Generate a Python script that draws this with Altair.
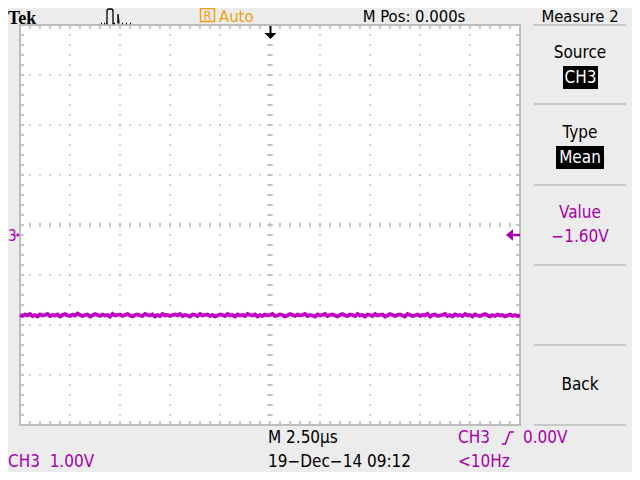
import altair as alt
import numpy as np
import pandas as pd

# ---------------- data ----------------
# time axis: 2.50 us/div, 10 divisions ; vertical: CH3 1.00 V/div, ground marker 0.2 div below centre
time_range_us = [-12.5, 12.5]
volt_range = [-3.8, 4.2]
major_t = [-10, -7.5, -5, -2.5, 2.5, 5, 7.5, 10]
major_v = [-2.8, -1.8, -0.8, 1.2, 2.2, 3.2]
centre_t = 0.0
centre_v = 0.2

# CH3 trace (volts), one sample every 0.125 us
trace_v = [
    -1.60, -1.62, -1.59, -1.61, -1.58, -1.62, -1.60, -1.63, -1.59, -1.61, -1.60, -1.58, -1.62, -1.60, -1.61, -1.59, -1.63, -1.60, -1.58, -1.61,
    -1.62, -1.59, -1.61, -1.57, -1.60, -1.62, -1.60, -1.59, -1.63, -1.61, -1.58, -1.60, -1.62, -1.59, -1.61, -1.60, -1.63, -1.58, -1.61, -1.60,
    -1.59, -1.62, -1.60, -1.58, -1.61, -1.63, -1.60, -1.59, -1.61, -1.62, -1.58, -1.60, -1.61, -1.59, -1.63, -1.60, -1.62, -1.58, -1.61, -1.60,
    -1.62, -1.60, -1.59, -1.61, -1.58, -1.62, -1.60, -1.61, -1.63, -1.59, -1.60, -1.62, -1.58, -1.61, -1.60, -1.59, -1.62, -1.60, -1.63, -1.61,
    -1.59, -1.60, -1.62, -1.58, -1.61, -1.60, -1.63, -1.59, -1.61, -1.60, -1.62, -1.58, -1.60, -1.61, -1.59, -1.63, -1.60, -1.62, -1.59, -1.61,
    -1.60, -1.58, -1.62, -1.61, -1.59, -1.60, -1.63, -1.61, -1.58, -1.60, -1.62, -1.59, -1.61, -1.60, -1.58, -1.62, -1.60, -1.61, -1.63, -1.59,
    -1.61, -1.60, -1.58, -1.62, -1.60, -1.59, -1.61, -1.63, -1.60, -1.58, -1.61, -1.62, -1.59, -1.60, -1.62, -1.58, -1.61, -1.60, -1.63, -1.59,
    -1.60, -1.62, -1.58, -1.61, -1.60, -1.59, -1.63, -1.61, -1.58, -1.60, -1.62, -1.60, -1.59, -1.61, -1.63, -1.58, -1.60, -1.62, -1.61, -1.59,
    -1.62, -1.60, -1.61, -1.58, -1.63, -1.60, -1.59, -1.62, -1.61, -1.60, -1.58, -1.62, -1.60, -1.63, -1.59, -1.61, -1.60, -1.62, -1.58, -1.61,
    -1.60, -1.63, -1.59, -1.61, -1.62, -1.60, -1.58, -1.61, -1.63, -1.60, -1.62, -1.59, -1.61, -1.60, -1.63, -1.61, -1.59, -1.62, -1.60, -1.62,
    -1.61,
]
trace_dt = 0.125

menu_title = "Measure 2"
menu_items = ["Source", "Type", "Value", "Back"]
menu_values = ["CH3", "Mean", "\u22121.60V"]
top_texts = ["Tek", "Auto", "M Pos: 0.000s", "R"]
bottom_texts = ["M 2.50\u00b5s", "19\u2212Dec\u221214 09:12", "CH3", "0.00V", "<10Hz", "CH3\u00a0\u00a01.00V"]

# ---------------- styles ----------------
PURPLE = "#a600aa"
TRACE = "#c000c4"
ORANGE = "#f0a010"
GRID = "#bababa"
SEP = "#c8c8c8"
BG = "#ececec"
FONT = "Liberation Sans Narrow, DejaVu Sans Condensed, Roboto, sans-serif"
OX, OY = 20, 25  # page position of plot area

xs = alt.Scale(domain=time_range_us, nice=False, zero=False)
ys = alt.Scale(domain=volt_range, nice=False, zero=False)


def enc(df):
    return alt.Chart(df).encode(
        x=alt.X("t:Q", scale=xs, axis=None),
        y=alt.Y("v:Q", scale=ys, axis=None),
    )


def steps(a, b, step):
    n = int(round((b - a) / step))
    return [round(a + i * step, 4) for i in range(1, n)]


minor_t = steps(time_range_us[0], time_range_us[1], 0.5)
minor_v = steps(volt_range[0], volt_range[1], 0.2)

dots = pd.DataFrame(
    [{"t": t, "v": v} for t in major_t for v in minor_v]
    + [{"t": t, "v": v} for v in major_v for t in minor_t]
)
centre_h = pd.DataFrame({"t": minor_t, "v": [centre_v] * len(minor_t)})
centre_vt = pd.DataFrame({"t": [centre_t] * len(minor_v), "v": minor_v})
top_b = pd.DataFrame({"t": minor_t, "v": [volt_range[1]] * len(minor_t)})
bot_b = pd.DataFrame({"t": minor_t, "v": [volt_range[0]] * len(minor_t)})
left_b = pd.DataFrame({"t": [time_range_us[0]] * len(minor_v), "v": minor_v})
right_b = pd.DataFrame({"t": [time_range_us[1]] * len(minor_v), "v": minor_v})

trace = pd.DataFrame({"t": [time_range_us[0] + i * trace_dt for i in range(len(trace_v))], "v": trace_v})

VDASH = "M0,-1L0,1"
HDASH = "M-1,0L1,0"

layers = []
layers.append(enc(dots).mark_square(size=2.5, color=GRID, opacity=1))
layers.append(enc(centre_h).mark_point(shape=VDASH, size=20, stroke=GRID, strokeWidth=1.6, filled=False, opacity=1))
layers.append(enc(centre_vt).mark_point(shape=HDASH, size=30, stroke=GRID, strokeWidth=1.8, filled=False, opacity=1))
layers.append(enc(top_b).mark_point(shape=VDASH, size=16, stroke=GRID, strokeWidth=1.6, filled=False, opacity=1, yOffset=2))
layers.append(enc(bot_b).mark_point(shape=VDASH, size=16, stroke=GRID, strokeWidth=1.6, filled=False, opacity=1, yOffset=-2))
layers.append(enc(left_b).mark_point(shape=HDASH, size=16, stroke=GRID, strokeWidth=1.6, filled=False, opacity=1, xOffset=2))
layers.append(enc(right_b).mark_point(shape=HDASH, size=16, stroke=GRID, strokeWidth=1.6, filled=False, opacity=1, xOffset=-2))
layers.append(enc(trace).mark_line(color=TRACE, strokeWidth=3.8))

one = pd.DataFrame({"k": [0]})


def txt(s, x, y, color="black", size=17, align="left", font=FONT, weight="normal", baseline="middle"):
    return alt.Chart(pd.DataFrame({"label": [s]})).mark_text(
        align=align, baseline=baseline, fontSize=size, font=font, fontWeight=weight, color=color
    ).encode(x=alt.value(x - OX), y=alt.value(y - OY), text="label:N")


def rect(x1, y1, x2, y2, fill=None, stroke=None, sw=1):
    kw = {}
    if fill is not None:
        kw["fill"] = fill
    else:
        kw["fillOpacity"] = 0
    if stroke is not None:
        kw["stroke"] = stroke
        kw["strokeWidth"] = sw
    return alt.Chart(one).mark_rect(**kw).encode(
        x=alt.value(x1 - OX), x2=alt.value(x2 - OX), y=alt.value(y1 - OY), y2=alt.value(y2 - OY)
    )


def hline(x1, x2, y, color=SEP, sw=2):
    return alt.Chart(one).mark_rule(color=color, strokeWidth=sw).encode(
        x=alt.value(x1 - OX), x2=alt.value(x2 - OX), y=alt.value(y - OY)
    )


def sym(shape, x, y, size, color, filled=True, sw=1.3):
    kw = dict(shape=shape, size=size, opacity=1)
    if filled:
        kw.update(filled=True, fill=color, strokeWidth=0)
    else:
        kw.update(filled=False, stroke=color, strokeWidth=sw)
    return alt.Chart(one).mark_point(**kw).encode(x=alt.value(x - OX), y=alt.value(y - OY))


# top bar (the page starts drawing at 8px, so the row sits a little lower)
layers.append(txt(top_texts[0], 8, 24, size=18, font="Liberation Serif, DejaVu Serif, serif",
                  weight="bold", baseline="alphabetic"))
pulse = ("M-0.944,0.417L-0.889,0.417M-0.778,0.417L-0.722,0.417M-0.667,0.417L-0.611,0.417"
         "L-0.611,-0.278Q-0.611,-0.389,-0.5,-0.389L-0.389,-0.389Q-0.278,-0.389,-0.278,-0.278"
         "L-0.278,0.417L-0.167,0.417M0,0.417L0,-0.111L0.056,0.417M0.222,0.417L0.278,0.417"
         "M0.444,0.417L0.5,0.417M0.667,0.417L0.722,0.417")
layers.append(sym(pulse, 118, 16, 1296, "black", filled=False, sw=1.3))
layers.append(rect(200.5, 8.5, 214.5, 21.5, stroke=ORANGE, sw=1.5))
layers.append(txt(top_texts[3], 207.5, 20, color=ORANGE, size=13, align="center", baseline="alphabetic"))
layers.append(txt(top_texts[1], 219, 22, color=ORANGE, size=16.5, baseline="alphabetic"))
layers.append(txt(top_texts[2], 414, 22, size=16.5, align="center", baseline="alphabetic"))
layers.append(txt(menu_title, 580, 22, size=16.5, align="center", baseline="alphabetic"))
layers.append(hline(533, 626, 25))

# trigger position arrow
arrow = "M-0.14,-1L0.14,-1L0.14,0L0.85,0L0,0.85L-0.85,0L-0.14,0Z"
layers.append(sym(arrow, 270.5, 33, 196, "black"))

# ground marker and trigger level marker
layers.append(txt("3", 8, 236, color=PURPLE, size=15))
layers.append(sym("M-1,-0.15L0,-0.15L0,-0.7L1,0L0,0.7L0,0.15L-1,0.15Z", 17, 235, 36, PURPLE))
layers.append(sym("M1,-0.18L0,-0.18L0,-0.8L-1,0L0,0.8L0,0.18L1,0.18Z", 513, 235, 200, PURPLE))

# right menu
layers.append(txt(menu_items[0], 580, 53, align="center"))
layers.append(rect(563, 66, 598, 89, fill="black"))
layers.append(txt(menu_values[0], 580.5, 78, color="white", align="center"))
layers.append(hline(534, 626, 104))
layers.append(txt(menu_items[1], 580, 133, align="center"))
layers.append(rect(556, 146, 604, 169, fill="black"))
layers.append(txt(menu_values[1], 580, 158, color="white", align="center"))
layers.append(hline(534, 626, 185))
layers.append(txt(menu_items[2], 580, 213, color=PURPLE, align="center"))
layers.append(txt(menu_values[2], 580, 237, color=PURPLE, align="center"))
layers.append(hline(534, 626, 265))
layers.append(hline(534, 626, 345))
layers.append(txt(menu_items[3], 580, 385, align="center"))
layers.append(hline(534, 626, 425))

# bottom bar
layers.append(txt(bottom_texts[0], 268, 438))
layers.append(txt(bottom_texts[1], 268, 462))
layers.append(txt(bottom_texts[2], 458, 438, color=PURPLE))
layers.append(sym("M-1,1L-0.45,1L0.3,-1L1,-1", 508, 438, 144, PURPLE, filled=False, sw=1.5))
layers.append(txt(bottom_texts[3], 523, 438, color=PURPLE))
layers.append(txt(bottom_texts[4], 458, 462, color=PURPLE))
layers.append(txt(bottom_texts[5], 8, 462, color=PURPLE))

chart = (
    alt.layer(*layers)
    .properties(
        width=500,
        height=400,
        padding={"left": 12, "top": 17, "right": 112, "bottom": 47},
        autosize=alt.AutoSizeParams(type="none"),
        background=BG,
    )
    .configure_view(stroke="#bdbdbd", strokeWidth=2, fill="white")
)

chart.save("out.html", embed_options={"renderer": "svg", "actions": False})
